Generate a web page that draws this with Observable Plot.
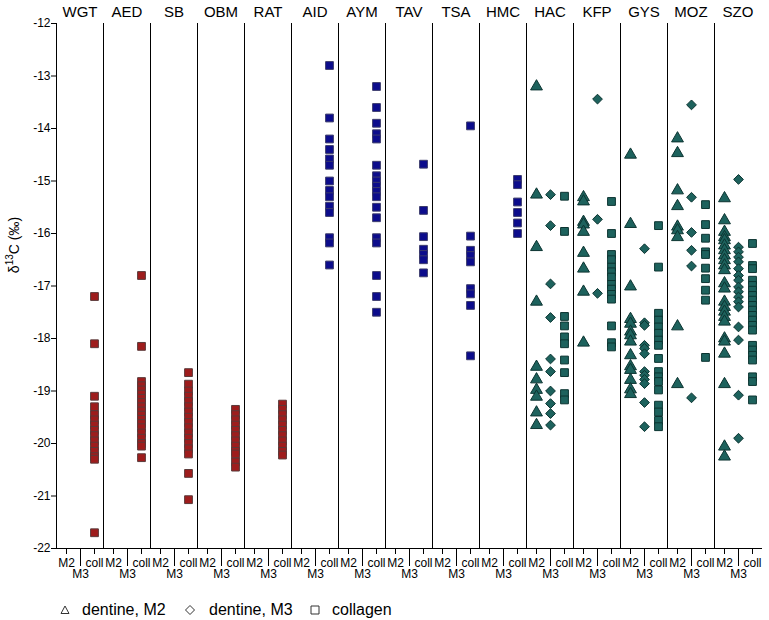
<!DOCTYPE html>
<html><head><meta charset="utf-8">
<script src="https://cdn.jsdelivr.net/npm/d3@7"></script>
<script src="https://cdn.jsdelivr.net/npm/@observablehq/plot@0.6"></script>
<style>
body{margin:0;background:#fff;font-family:"Liberation Sans",Arial,sans-serif;position:relative;width:769px;height:620px;overflow:hidden;}
#chart svg{display:block;}
.lg{position:absolute;font-size:16px;color:#000;white-space:nowrap;}
.lg svg{position:absolute;}
</style></head><body><div id="chart"></div><div id="legend"></div>
<script>
const sites = ["WGT","AED","SB","OBM","RAT","AID","AYM","TAV","TSA","HMC","HAC","KFP","GYS","MOZ","SZO"];
const tissues = ["M2","M3","coll"];
const tissueLabels = ["dentine, M2","dentine, M3","collagen"];
const redSites = ["WGT","AED","SB","OBM","RAT"];
const blueSites = ["AID","AYM","TAV","TSA","HMC"];
const tealSites = ["HAC","KFP","GYS","MOZ","SZO"];

const WGT_coll = [-17.2,-18.1,-19.1,-19.3,-19.45,-19.55,-19.65,-19.75,-19.85,-19.95,-20.05,-20.15,-20.25,-20.3,-21.7];
const AED_coll = [-16.8,-18.15,-18.82,-18.9,-18.98,-19.06,-19.14,-19.22,-19.3,-19.38,-19.46,-19.54,-19.62,-19.7,-19.8,-19.9,-20.0,-20.05,-20.27];
const SB_coll = [-18.65,-18.87,-19.0,-19.1,-19.2,-19.3,-19.4,-19.5,-19.6,-19.7,-19.8,-19.9,-20.0,-20.1,-20.2,-20.57,-21.07];
const OBM_coll = [-19.35,-19.45,-19.55,-19.65,-19.75,-19.85,-19.95,-20.05,-20.15,-20.2,-20.35,-20.45];
const RAT_coll = [-19.25,-19.35,-19.45,-19.55,-19.65,-19.75,-19.85,-19.95,-20.05,-20.15,-20.22];
const AID_coll = [-12.8,-13.8,-14.2,-14.4,-14.58,-14.7,-15.0,-15.18,-15.3,-15.48,-15.6,-16.08,-16.18,-16.6];
const AYM_coll = [-13.2,-13.6,-13.9,-14.1,-14.2,-14.7,-14.9,-15.0,-15.1,-15.2,-15.3,-15.5,-15.7,-16.08,-16.18,-16.8,-17.2,-17.5];
const TAV_coll = [-14.68,-15.56,-16.06,-16.3,-16.4,-16.5,-16.75];
const TSA_coll = [-13.95,-16.05,-16.32,-16.42,-16.54,-17.05,-17.15,-17.37,-18.33];
const HMC_coll = [-14.97,-15.07,-15.4,-15.6,-15.8,-16.0];
const HAC_M2 = [-13.2,-15.26,-16.26,-17.3,-18.54,-18.78,-18.98,-19.11,-19.41,-19.65];
const HAC_M3 = [-15.26,-15.85,-16.96,-17.6,-18.39,-18.63,-19.0,-19.24,-19.43,-19.65];
const HAC_coll = [-15.29,-15.96,-17.58,-17.76,-17.97,-18.1,-18.41,-18.65,-19.05,-19.17];
const KFP_M2 = [-15.31,-15.39,-15.78,-15.83,-15.97,-16.37,-16.67,-17.11,-18.08];
const KFP_M3 = [-13.44,-15.73,-17.14];
const KFP_coll = [-15.39,-16.0,-16.4,-16.5,-16.64,-16.73,-16.83,-16.97,-17.06,-17.16,-17.25,-17.76,-18.08,-18.16];
const GYS_M2 = [-14.5,-15.82,-17.01,-17.63,-17.72,-17.87,-17.94,-18.06,-18.32,-18.53,-18.6,-18.79,-18.97,-19.06];
const GYS_M3 = [-16.29,-17.7,-17.75,-18.13,-18.19,-18.29,-18.63,-18.7,-18.78,-18.86,-19.22,-19.68];
const GYS_coll = [-15.85,-16.64,-17.52,-17.65,-17.78,-17.9,-18.03,-18.13,-18.38,-18.63,-18.73,-18.82,-18.98,-19.27,-19.4,-19.56,-19.68];
const MOZ_M2 = [-14.19,-14.47,-15.18,-15.48,-15.87,-15.94,-16.07,-17.77,-18.87];
const MOZ_M3 = [-13.55,-15.31,-15.98,-16.32,-16.62,-19.13];
const MOZ_coll = [-15.45,-15.83,-16.09,-16.35,-16.4,-16.66,-16.86,-17.08,-17.27,-18.36];
const SZO_M2 = [-15.33,-15.75,-15.97,-16.07,-16.13,-16.23,-16.32,-16.42,-16.51,-16.61,-16.7,-16.95,-17.05,-17.3,-17.4,-17.49,-17.59,-17.68,-18.0,-18.06,-18.29,-18.87,-20.06,-20.25];
const SZO_M3 = [-14.97,-16.26,-16.35,-16.45,-16.54,-16.67,-16.8,-16.89,-17.02,-17.11,-17.21,-17.3,-17.4,-17.78,-18.03,-19.08,-19.9];
const SZO_coll = [-16.19,-16.61,-16.67,-16.89,-16.99,-17.08,-17.18,-17.27,-17.37,-17.46,-17.56,-17.65,-17.75,-17.84,-18.13,-18.22,-18.32,-18.41,-18.73,-18.82,-19.17];

const series = [
  ["WGT","coll",WGT_coll],["AED","coll",AED_coll],["SB","coll",SB_coll],["OBM","coll",OBM_coll],["RAT","coll",RAT_coll],
  ["AID","coll",AID_coll],["AYM","coll",AYM_coll],["TAV","coll",TAV_coll],["TSA","coll",TSA_coll],["HMC","coll",HMC_coll],
  ["HAC","M2",HAC_M2],["HAC","M3",HAC_M3],["HAC","coll",HAC_coll],
  ["KFP","M2",KFP_M2],["KFP","M3",KFP_M3],["KFP","coll",KFP_coll],
  ["GYS","M2",GYS_M2],["GYS","M3",GYS_M3],["GYS","coll",GYS_coll],
  ["MOZ","M2",MOZ_M2],["MOZ","M3",MOZ_M3],["MOZ","coll",MOZ_coll],
  ["SZO","M2",SZO_M2],["SZO","M3",SZO_M3],["SZO","coll",SZO_coll]
];
const fills = {red:"#9e1c1c", blue:"#0c0c8c", teal:"#1d625d"};
const strokes = {red:"#5a3a3a", blue:"#3c3c6c", teal:"#0c3431"};
function groupOf(s){ return redSites.includes(s) ? "red" : blueSites.includes(s) ? "blue" : "teal"; }
const data = series.flatMap(([site,tissue,vals]) => vals.map(v => ({site, tissue, v, group: groupOf(site)})));

const plot = Plot.plot({
  width: 769, height: 590,
  marginLeft: 50, marginRight: 2, marginTop: 23, marginBottom: 42,
  style: {fontFamily: "'Liberation Sans', Arial, sans-serif", fontSize: "12px", color: "#000", background: "#fff"},
  fx: {domain: sites, padding: 0, label: null},
  x: {type: "point", domain: tissues, padding: 2/3, label: null},
  y: {domain: [-22, -12], label: null},
  color: {type: "identity"},
  symbol: {domain: tissues, range: ["triangle", "diamond2", "square"]},
  marks: [
    Plot.frame({anchor: "left", stroke: "#000", strokeWidth: 1}),
    Plot.frame({anchor: "bottom", stroke: "#000", strokeWidth: 1}),
    Plot.axisFx({anchor: "top", tickSize: 0, tickPadding: 7, fontSize: 15, label: null}),
    Plot.axisY({ticks: d3.range(-22, -11), tickSize: 5, tickPadding: 1, tickFormat: d => `${d}`, fontSize: 12, label: null}),
    Plot.axisX({ticks: ["M2", "coll"], tickSize: 6, tickPadding: 4, fontSize: 12, label: null}),
    Plot.axisX({ticks: ["M3"], tickSize: 18, tickPadding: 3, fontSize: 12, label: null}),
    Plot.dot(data, {fx: "site", x: "tissue", y: "v", symbol: "tissue", r: 4.4,
      fill: d => fills[d.group], stroke: d => strokes[d.group], strokeWidth: 1, fillOpacity: 1})
  ]
});
document.getElementById("chart").appendChild(plot);

// y-axis title with superscript
const svg = d3.select(plot);
const yt = svg.append("text")
  .attr("transform", "translate(19,245) rotate(-90)")
  .attr("text-anchor", "middle")
  .attr("font-size", 14)
  .attr("font-family", "'Liberation Sans', Arial, sans-serif")
  .attr("fill", "#000");
yt.append("tspan").text("δ");
yt.append("tspan").attr("font-size", 10).attr("dy", -6).text("13");
yt.append("tspan").attr("dy", 6).text("C (‰)");

// legend below the chart
const legend = document.getElementById("legend");
const symPaths = {
  M2: "M5,1 L9,8.5 L1,8.5 Z",
  M3: "M5,0.5 L9.5,5 L5,9.5 L0.5,5 Z",
  coll: "M1,1 L9,1 L9,9 L1,9 Z"
};
const legendX = [{sym: 60, text: 82}, {sym: 185, text: 209}, {sym: 310, text: 332}];
tissues.forEach((t, i) => {
  const s = document.createElement("div");
  s.className = "lg";
  s.style.left = legendX[i].sym + "px";
  s.style.top = "605px";
  s.innerHTML = `<svg width="10" height="10" style="left:0;top:0"><path d="${symPaths[t]}" fill="none" stroke="#333" stroke-width="1"/></svg>`;
  legend.appendChild(s);
  const l = document.createElement("div");
  l.className = "lg";
  l.style.left = legendX[i].text + "px";
  l.style.top = "601px";
  l.textContent = tissueLabels[i];
  legend.appendChild(l);
});
</script>
</body></html>
